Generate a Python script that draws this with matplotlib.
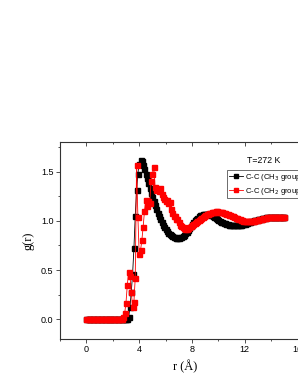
import matplotlib
matplotlib.use("Agg")
import matplotlib.pyplot as plt
import numpy as np
from matplotlib.ticker import MultipleLocator

# radial grid (Angstrom), 0.1 step from 0 to 15
r = np.linspace(0.0, 15.0, 151)

# C-C (CH3 group)
g_ch3 = [0.0] * 32 + [
    0.02, 0.12, 0.28, 0.46, 0.72, 1.05, 1.31, 1.48, 1.58, 1.62,
    1.61, 1.57, 1.53, 1.48, 1.43, 1.38, 1.33, 1.28, 1.24, 1.20,
    1.16, 1.12, 1.08, 1.05, 1.02, 0.99, 0.96, 0.94, 0.92, 0.90,
    0.88, 0.87, 0.86, 0.85, 0.84, 0.835, 0.83, 0.83, 0.83, 0.835,
    0.84, 0.85, 0.86, 0.875, 0.89, 0.91, 0.93, 0.95, 0.97, 0.99,
    1.01, 1.02, 1.03, 1.045, 1.055, 1.06, 1.065, 1.07, 1.07, 1.07,
    1.07, 1.065, 1.06, 1.055, 1.05, 1.04, 1.03, 1.02, 1.01, 1.0,
    0.99, 0.985, 0.98, 0.975, 0.97, 0.965, 0.962, 0.96, 0.958, 0.956,
    0.955, 0.955, 0.955, 0.956, 0.958, 0.96, 0.963, 0.967, 0.97, 0.975,
    0.98, 0.985, 0.99, 0.995, 1.0, 1.005, 1.01, 1.013, 1.016, 1.02,
    1.023, 1.026, 1.029, 1.032, 1.034, 1.036, 1.038, 1.04, 1.04, 1.041,
    1.041, 1.041, 1.04, 1.04, 1.039, 1.038, 1.037, 1.036, 1.035,
]

# C-C (CH2 group)
g_ch2 = [0.0] * 28 + [
    0.02, 0.06, 0.17, 0.35, 0.48, 0.44, 0.28, 0.12, 0.18, 0.42,
    1.57, 1.04, 0.66, 0.70, 0.80, 0.94, 1.10, 1.21, 1.15, 1.20,
    1.18, 1.40, 1.48, 1.55, 1.34, 1.31, 1.32, 1.30, 1.33, 1.27,
    1.24, 1.22, 1.20, 1.21, 1.18, 1.19, 1.12, 1.08, 1.05, 1.05,
    1.02, 1.02, 0.99, 0.96, 0.95, 0.94, 0.93, 0.92, 0.92, 0.925,
    0.935, 0.945, 0.96, 0.97, 0.98, 0.99, 1.0, 1.01, 1.02, 1.03,
    1.04, 1.05, 1.06, 1.065, 1.07, 1.075, 1.08, 1.085, 1.09, 1.092,
    1.095, 1.095, 1.094, 1.092, 1.09, 1.085, 1.08, 1.075, 1.07, 1.065,
    1.06, 1.055, 1.05, 1.045, 1.04, 1.033, 1.027, 1.02, 1.015, 1.01,
    1.005, 1.0, 0.998, 0.996, 0.995, 0.995, 0.996, 0.998, 1.0, 1.003,
    1.006, 1.01, 1.013, 1.016, 1.02, 1.023, 1.026, 1.03, 1.032, 1.034,
    1.036, 1.038, 1.04, 1.041, 1.042, 1.042, 1.042, 1.041, 1.04, 1.039,
    1.038, 1.037, 1.036,
]

labels = ["C-C (CH$_3$ group)", "C-C (CH$_2$ group)"]
title_text = "T=272 K"

sans = "Liberation Sans"
serif = "Liberation Serif"

fig = plt.figure(figsize=(2.98, 3.85), dpi=100)
# axes run past the right edge of the canvas, like the cropped original
ax = fig.add_axes([60 / 298, 1 - 339 / 385, 250.8 / 298, 197 / 385])

ax.plot(r, g_ch3, color="black", lw=0.6, marker="s", ms=3.6, mec="black", label=labels[0])
ax.plot(r, g_ch2, color="red", lw=0.6, marker="s", ms=3.6, mec="red", label=labels[1])

ax.set_xlim(-2, 17)
ax.set_ylim(-0.2, 1.8)
ax.xaxis.set_major_locator(MultipleLocator(4))
ax.xaxis.set_minor_locator(MultipleLocator(2))
ax.yaxis.set_major_locator(MultipleLocator(0.5))
ax.yaxis.set_minor_locator(MultipleLocator(0.25))
ax.tick_params(which="both", direction="out", width=0.6, colors="#333333",
               labelsize=6.5, labelcolor="black", pad=2)
ax.tick_params(which="major", length=2.6)
ax.tick_params(which="minor", length=1.6)
for t in ax.get_xticklabels() + ax.get_yticklabels():
    t.set_fontfamily(sans)

# mirrored ticks on top, pointing in
top = ax.secondary_xaxis("top")
top.xaxis.set_major_locator(MultipleLocator(4))
top.xaxis.set_minor_locator(MultipleLocator(2))
top.tick_params(which="both", direction="in", width=0.6, colors="#333333", labeltop=False)
top.tick_params(which="major", length=2.6)
top.tick_params(which="minor", length=1.6)

for s in ax.spines.values():
    s.set_linewidth(0.8)
    s.set_color("#333333")
top.spines["top"].set_visible(False)

ax.set_xlabel("r (Å)", fontfamily=serif, fontsize=9, labelpad=4)
ax.set_ylabel("g(r)", fontfamily=serif, fontsize=9, labelpad=5)

ax.text(0.811, 0.904, title_text, transform=ax.transAxes, ha="center", va="center",
        fontfamily=sans, fontsize=6.3)

leg = ax.legend(loc="upper left", bbox_to_anchor=(0.667, 0.858), borderaxespad=0,
                prop={"family": sans, "size": 5.5}, frameon=True, fancybox=False,
                edgecolor="#333333", framealpha=1, handlelength=1.9, handletextpad=0.25,
                borderpad=0.2, labelspacing=0.4, markerscale=0.75)
leg.get_frame().set_linewidth(0.5)

fig.savefig("out.png", dpi=100)
